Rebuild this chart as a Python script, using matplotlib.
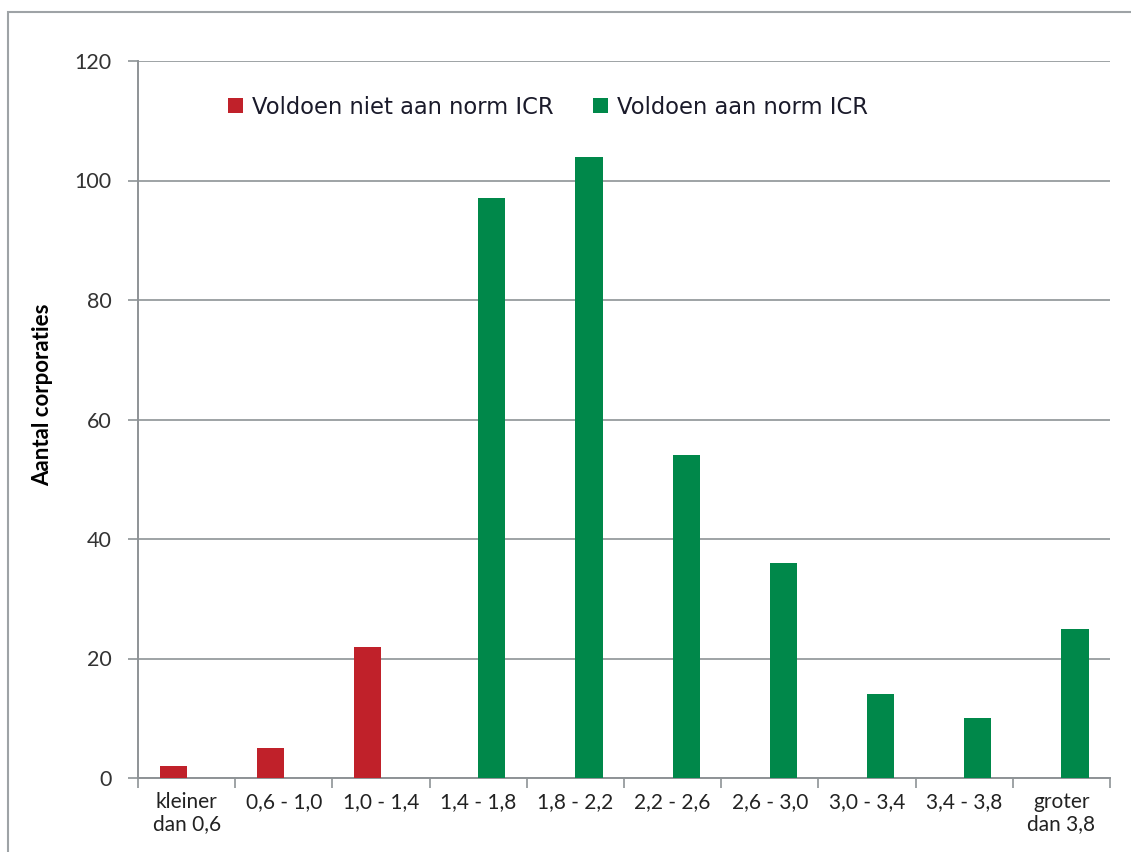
import matplotlib
matplotlib.use("Agg")
import matplotlib.pyplot as plt
from matplotlib.patches import Rectangle
import numpy as np

categories = ["kleiner\ndan 0,6", "0,6 - 1,0", "1,0 - 1,4", "1,4 - 1,8", "1,8 - 2,2",
              "2,2 - 2,6", "2,6 - 3,0", "3,0 - 3,4", "3,4 - 3,8", "groter\ndan 3,8"]
niet_voldoen = [2, 5, 22, 0, 0, 0, 0, 0, 0, 0]
voldoen = [0, 0, 0, 97, 104, 54, 36, 14, 10, 25]
yticks = [0, 20, 40, 60, 80, 100, 120]

red = "#c0212a"
green = "#00884a"
grid_c = "#8e9396"

plt.rcParams['font.family'] = ['Lato', 'DejaVu Sans']

fig = plt.figure(figsize=(11.31, 8.52), dpi=100)
fig.patches.append(Rectangle((8/1131, -0.1), 1.2, 1 - 12/852 + 0.1, transform=fig.transFigure,
                             fill=False, edgecolor="#9ea3a6", linewidth=1.5))
ax = fig.add_axes([138/1131, 1 - 778/852, (1110 - 138)/1131, (778 - 61)/852])

x = np.arange(len(categories))
w = 0.28
ax.bar(x - 0.135, niet_voldoen, width=w, color=red, label="Voldoen niet aan norm ICR", zorder=3)
ax.bar(x + 0.14, voldoen, width=w, color=green, label="Voldoen aan norm ICR", zorder=3)

ax.set_xlim(-0.5, len(categories) - 0.5)
ax.set_ylim(0, 120)
ax.set_yticks(yticks)
ax.set_yticklabels([str(v) for v in yticks], fontsize=15.5, color="#333333")
ax.set_xticks(np.arange(-0.5, len(categories)), minor=False)
ax.set_xticklabels([])
ax.set_xticks(x, minor=True)
ax.set_xticklabels(categories, minor=True, fontsize=15, color="#222222", linespacing=1.15)
ax.tick_params(axis='x', which='minor', length=0, pad=10)
ax.tick_params(axis='x', which='major', length=7, color=grid_c, width=1.2)
ax.tick_params(axis='y', length=7, color=grid_c, width=1.2, pad=12)

ax.yaxis.grid(True, color=grid_c, linewidth=1.2, zorder=0)
for s in ["top", "right"]:
    ax.spines[s].set_visible(False)
for s in ["left", "bottom"]:
    ax.spines[s].set_color(grid_c)
    ax.spines[s].set_linewidth(1.4)

ax.set_ylabel("Aantal corporaties", fontsize=16, fontweight="bold")
ax.yaxis.set_label_coords(-0.087, 0.534)

leg = ax.legend(loc="upper left", bbox_to_anchor=(0.072, 0.98), ncol=2, frameon=False,
                prop={'family': ['DejaVu Sans'], 'size': 16.3}, handlelength=0.65,
                handleheight=0.65, handletextpad=0.4, columnspacing=1.75)
plt.setp(leg.get_texts(), color="#1a1a2a")

fig.savefig("out.png", dpi=100)
